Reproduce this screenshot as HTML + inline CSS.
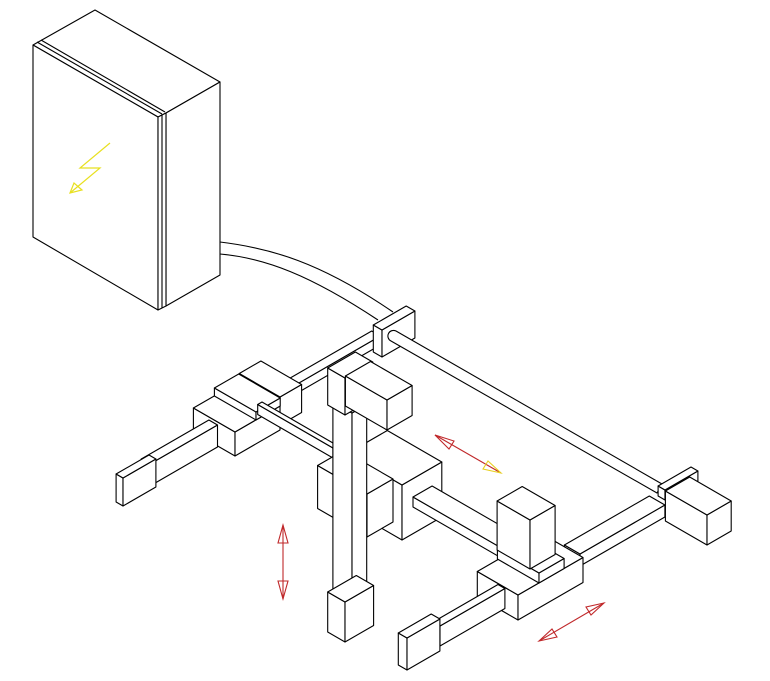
<!DOCTYPE html>
<html><head><meta charset="utf-8"><style>
html,body{margin:0;padding:0;background:#fff;width:770px;height:681px;overflow:hidden}
svg{display:block}
</style></head><body>
<svg id="s" width="770" height="681" viewBox="0 0 770 681" xmlns="http://www.w3.org/2000/svg">
<g fill="#fff" stroke="#000" stroke-width="1.1" stroke-linejoin="round">
<!-- cabinet -->
<polygon points="33,45 95,10 220,82 166,113 158,117"/>
<polygon points="166,113 220,82 220,275 166,306"/>
<polygon points="33,45 158,117 158,310 33,237"/>
<polygon points="158,117 166,113 166,306 158,310"/>
<line x1="162" y1="115" x2="162" y2="308"/>
<line x1="37" y1="42" x2="162" y2="114"/>
<line x1="41" y1="40" x2="165" y2="112"/>
<!-- cable -->
<path d="M220,242 C270,248 320,262 393,312" fill="none"/>
<path d="M220,254 C265,258 310,275 378,320" fill="none"/>
</g>
<g fill="none" stroke="#e8e020" stroke-width="1.2">
<polyline points="110,143 80,168 100,168 70,193"/>
<polygon points="70,193 74,183 82,190"/>
</g>
<g id="m" fill="#fff" stroke="#000" stroke-width="1.1" stroke-linejoin="round"></g>
<g fill="none" stroke="#c0282a" stroke-width="1.1">
<line x1="283" y1="525" x2="283" y2="599"/>
<polygon points="283,525 278,543 288,543"/>
<polygon points="283,599 278,581 288,581"/>
<line x1="435" y1="435" x2="501" y2="473"/>
<polygon points="435,435 449,449 454,441"/>
<line x1="539" y1="641" x2="604" y2="603"/>
<polygon points="539,641 557,637 552,629"/>
<polygon points="604,603 586,607 591,615"/>
</g>
<polygon points="501,473 483,469 488,461" fill="none" stroke="#e8d020" stroke-width="1.1"/>
</svg>
<script>
var g=document.getElementById('m'),NS='http://www.w3.org/2000/svg',c=.866,s=.5;
function poly(p){var e=document.createElementNS(NS,'polygon');e.setAttribute('points',p.map(function(q){return q[0].toFixed(1)+','+q[1].toFixed(1)}).join(' '));g.appendChild(e);}
function box(px,py,a,b,h){
 var P=[px,py],L=[px-c*a,py-s*a],R=[px+c*b,py-s*b],B=[px-c*a+c*b,py-s*a-s*b];
 function u(q){return [q[0],q[1]-h];}
 poly([L,P,u(P),u(L)]);poly([P,R,u(R),u(P)]);poly([u(L),u(P),u(R),u(B)]);
}
function path(d){var e=document.createElementNS(NS,'path');e.setAttribute('d',d);g.appendChild(e);}
// left rail
box(292,396,10,102,9);
// bracket
box(382,357,10,38,27);
// rear rod
path('M396,331 L662,484 L657,493 L391,341 A5,5 0 0 1 396,331 Z');
// right rail
box(580,566,18,98,12);
// plate + right end
box(665,500,8,38,10);
box(707,545,48,28,30);
// left carriage
box(280,425,47,25,28);
box(235,456,48,52,24);
box(256,420,48,28,8);
box(333,458,87,5,10);
// left arm + cap
box(150,486,10,78,22);
box(123,506,8,38,28);
// middle
box(402,540,63,46,55);
box(367,537,57,30,43);
box(352,600,22,17,187);
box(345,642,20,33,40);
box(345,415,20,32,37);
box(387,430,48,29,30);
// middle arm
box(510,563,112,22,10);
// front carriage
box(518,620,47,75,25);
box(539,583,48,29,10);
box(530,569,38,29,49);
// front arm + cap
box(440,646,8,75,20);
box(407,670,10,38,32);
</script>
</body></html>
